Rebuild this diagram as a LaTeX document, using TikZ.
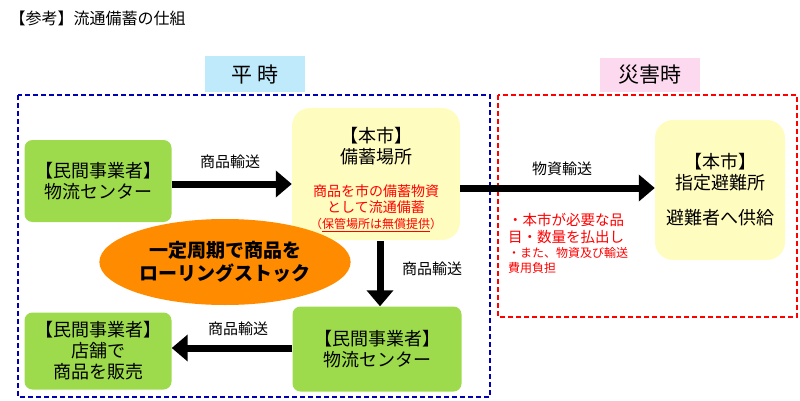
\documentclass[tikz,border=0pt]{standalone}
\usepackage{fontspec}
\setmainfont{Noto Sans CJK JP}
\usetikzlibrary{arrows.meta,shapes.geometric}
\begin{document}
\begin{tikzpicture}[x=1pt,y=-1pt,
 arr/.style={line width=7pt,-{Triangle[length=16pt,width=26pt]}},
 lab/.style={font=\fontsize{15}{17}\selectfont},
 redtxt/.style={text=red,font=\fontsize{12}{15}\selectfont,align=left}]
\useasboundingbox (0,0) rectangle (800,401);
\colorlet{gr}{green!50!black!40!lime!70!white}
\node[anchor=west,font=\fontsize{16}{18}\selectfont] (t) at (6,18) {【参考】流通備蓄の仕組};
\node[fill=cyan!25,minimum width=100,minimum height=36,font=\fontsize{21}{23}\selectfont] (hj) at (255,74) {平\ 時};
\node[fill=magenta!15,minimum width=100,minimum height=34,font=\fontsize{21}{23}\selectfont] (sg) at (650,75) {災害時};
\draw[blue!70!black,dash pattern=on 5pt off 3pt,line width=1.5pt] (18,95) rectangle (490,397);
\draw[red,dash pattern=on 5pt off 3pt,line width=1.5pt] (498,95) rectangle (797,317);
\node[fill=gr,rounded corners=8pt,align=center,font=\fontsize{18}{21}\selectfont,minimum width=147,minimum height=82] (g1) at (98,181) {【民間事業者】\\物流センター};
\node[fill=gr,rounded corners=8pt,align=center,font=\fontsize{18}{21}\selectfont,minimum width=147,minimum height=77] (g2) at (98,351) {【民間事業者】\\店舗で\\商品を販売};
\node[fill=gr,rounded corners=8pt,align=center,font=\fontsize{18}{21}\selectfont,minimum width=169,minimum height=85] (g3) at (377,349) {【民間事業者】\\物流センター};
\node[fill=yellow!25,rounded corners=18pt,minimum width=168,minimum height=132] (y1) at (376,174) {};
\node[align=center,font=\fontsize{18}{21}\selectfont] (y1t) at (376,146) {【本市】\\備蓄場所};
\node[align=center,text=red,font=\fontsize{14}{16}\selectfont] (y1r) at (376,208) {商品を市の備蓄物資\\として流通備蓄\\{\fontsize{12}{14}\selectfont（\underline{保管場所は無償提供}）}};
\node[fill=yellow!25,rounded corners=18pt,minimum width=130,minimum height=140,align=center,font=\fontsize{18}{21}\selectfont] (y2) at (720,190) {【本市】\\指定避難所\\[14pt]避難者へ供給};
\node[fill=orange!90!yellow,ellipse,minimum width=240,minimum height=86,align=center,font=\bfseries\fontsize{19}{23}\selectfont] (el) at (225,262) {一定周期で商品を\\ローリングストック};
\draw[arr] (g1.east|-0,184) -- (y1.west|-0,184);
\draw[arr] (y1.east|-0,188) -- (y2.west|-0,188);
\draw[arr] (380,241) -- (g3.north-|380,0);
\draw[arr] (g3.west|-0,348) -- (g2.east|-0,348);
\node[lab] (l1) at (230,162) {商品輸送};
\node[lab] (l2) at (562,169) {物資輸送};
\node[lab] (l3) at (432,269) {商品輸送};
\node[lab] (l4) at (238,329) {商品輸送};
\node[redtxt,anchor=north west,font=\fontsize{14.5}{17}\selectfont,inner sep=0] (r1) at (508,213) {・本市が必要な品\\目・数量を払出し};
\node[redtxt,anchor=north west,inner sep=0] (r2) at (508,247) {・また、物資及び輸送\\費用負担};
\end{tikzpicture}
\end{document}
